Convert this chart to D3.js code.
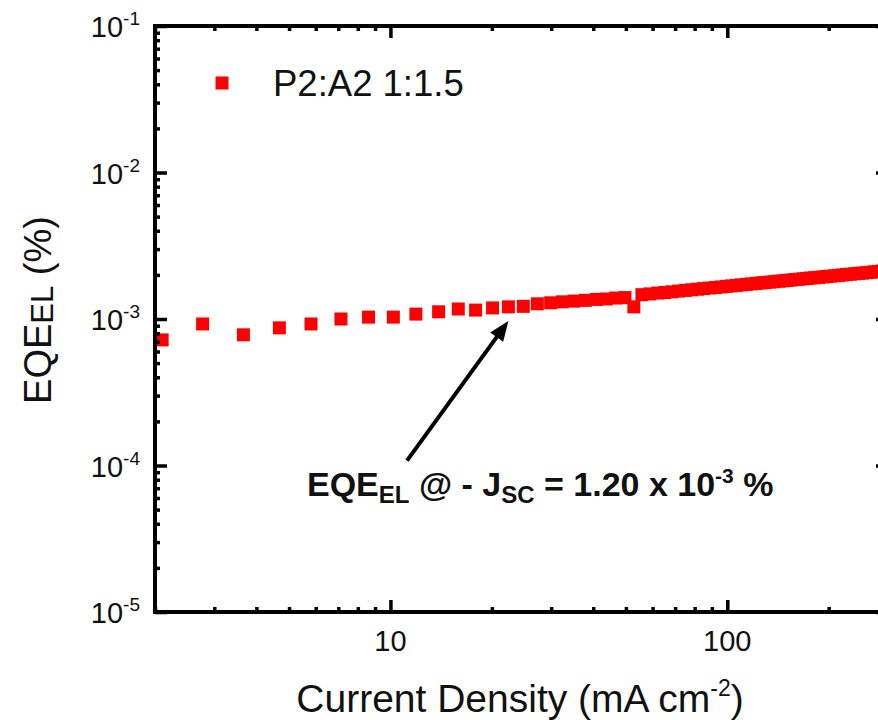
<!DOCTYPE html>
<html>
<head>
<meta charset="utf-8">
<script src="https://cdn.jsdelivr.net/npm/d3@7"></script>
<style>
  body { margin: 0; background: #fff; }
  svg { display: block; font-family: "Liberation Sans", Arial, sans-serif; }
</style>
</head>
<body>
<div id="chart"></div>
<script>
// data
const currentDensity = [2.10, 2.77, 3.66, 4.68, 5.81, 7.13, 8.61, 10.2, 11.9, 13.9, 15.9, 17.9, 20.1, 22.4, 24.8,
    27.3, 29.9, 32.4, 35.1, 37.9, 40.8, 43.7, 46.7, 49.7, 52.8,
    55.8, 58.9, 62.2, 65.2, 68.4, 71.7, 75.2, 78.3, 81.6, 85.0, 88.5, 92.2, 96.0, 99.3, 102.8, 106.3, 110.0, 113.8,
    117.7, 121.8, 126.0, 129.4, 133.9, 137.6, 142.4, 146.3, 150.3, 154.5, 158.7, 163.1, 167.6, 172.2, 176.9, 181.8,
    186.8, 192.0, 197.2, 202.7, 208.3, 214.0, 219.9, 225.9, 232.2, 238.6, 245.2, 251.9, 258.8, 266.0, 273.3, 280.8, 288.5];
const eqeEL = [7.2e-4, 9.25e-4, 7.8e-4, 8.7e-4, 9.25e-4, 1.0e-3, 1.03e-3, 1.03e-3, 1.08e-3, 1.12e-3, 1.17e-3, 1.15e-3, 1.19e-3, 1.21e-3, 1.22e-3,
    1.27e-3, 1.29e-3, 1.31e-3, 1.325e-3, 1.34e-3, 1.36e-3, 1.37e-3, 1.39e-3, 1.40e-3, 1.21e-3,
    1.466e-3, 1.484e-3, 1.503e-3, 1.517e-3, 1.533e-3, 1.55e-3, 1.567e-3, 1.582e-3, 1.597e-3, 1.612e-3, 1.627e-3, 1.641e-3, 1.656e-3, 1.669e-3,
    1.682e-3, 1.696e-3, 1.709e-3, 1.723e-3, 1.736e-3, 1.75e-3, 1.764e-3, 1.772e-3, 1.786e-3, 1.797e-3, 1.811e-3, 1.822e-3, 1.834e-3, 1.845e-3,
    1.857e-3, 1.868e-3, 1.88e-3, 1.892e-3, 1.904e-3, 1.913e-3, 1.925e-3, 1.937e-3, 1.949e-3, 1.961e-3, 1.973e-3, 1.986e-3, 1.998e-3, 2.011e-3,
    2.023e-3, 2.036e-3, 2.049e-3, 2.058e-3, 2.071e-3, 2.084e-3, 2.098e-3, 2.112e-3, 2.125e-3];

const xTickValues = [10, 100];
const yTickExponents = [-1, -2, -3, -4, -5];
const seriesName = "P2:A2 1:1.5";

// arrow: from tail to head, in data units
const arrowTail = [11.2, 1.08e-4];
const arrowHead = [22.4, 0.97e-3];

const width = 878, height = 720;

const svg = d3.select("#chart")
    .append("svg")
    .attr("width", width)
    .attr("height", height);

// right edge of frame sits just outside the picture
const x = d3.scaleLog().domain([2, 300]).range([155, 888]);
const y = d3.scaleLog().domain([1e-5, 1e-1]).range([612, 26]);

const points = currentDensity.map(function (d, i) {
    return { j: d, eqe: eqeEL[i] };
});

// data squares
const sq = 13;
svg.append("g")
    .selectAll("rect")
    .data(points)
    .enter().append("rect")
    .attr("x", d => x(d.j) - sq / 2)
    .attr("y", d => y(d.eqe) - sq / 2)
    .attr("width", sq)
    .attr("height", sq)
    .attr("fill", "#ff0000");

// minor tick values
let xMinor = [];
for (let dec = 1; dec <= 100; dec *= 10) {
    for (let k = 1; k <= 9; k++) {
        const v = k * dec;
        if (v >= 2 && v <= 300 && xTickValues.indexOf(v) < 0) xMinor.push(v);
    }
}
let yMinor = [];
for (let e = -5; e < -1; e++) {
    for (let k = 2; k <= 9; k++) yMinor.push(k * Math.pow(10, e));
}
const yMajor = yTickExponents.map(e => Math.pow(10, e));

function tickStyle(g, w) {
    g.select(".domain").remove();
    g.selectAll(".tick line").attr("stroke", "#000").attr("stroke-width", w);
    g.selectAll(".tick text").remove();
}

// inward ticks on all four sides
const axes = [
    [d3.axisBottom(x), "translate(0," + y.range()[0] + ")", xTickValues, -12, xMinor, -5],
    [d3.axisTop(x), "translate(0," + y.range()[1] + ")", xTickValues, -12, xMinor, -5],
    [d3.axisLeft(y), "translate(" + x.range()[0] + ",0)", yMajor, -12, yMinor, -5],
    [d3.axisRight(y), "translate(" + x.range()[1] + ",0)", yMajor, -12, yMinor, -5]
];
axes.forEach(function (a) {
    svg.append("g").attr("transform", a[1])
        .call(a[0].tickValues(a[4]).tickSize(a[5]).tickFormat(""))
        .call(g => tickStyle(g, 3.5));
    svg.append("g").attr("transform", a[1])
        .call(a[0].tickValues(a[2]).tickSize(a[3]).tickFormat(""))
        .call(g => tickStyle(g, 3.5));
});

// frame
svg.append("rect")
    .attr("x", x.range()[0])
    .attr("y", y.range()[1])
    .attr("width", x.range()[1] - x.range()[0])
    .attr("height", y.range()[0] - y.range()[1])
    .attr("fill", "none")
    .attr("stroke", "#000")
    .attr("stroke-width", 4);

// y tick labels 10^n
yTickExponents.forEach(function (e) {
    const t = svg.append("text")
        .attr("x", 140)
        .attr("y", y(Math.pow(10, e)) + 11)
        .attr("text-anchor", "end")
        .attr("font-size", 29)
        .attr("fill", "#111");
    t.append("tspan").text("10");
    t.append("tspan").attr("font-size", 19).attr("dy", -12).text(e);
});

// x tick labels
svg.selectAll(".xlab")
    .data(xTickValues)
    .enter().append("text")
    .attr("class", "xlab")
    .attr("x", d => x(d))
    .attr("y", 651)
    .attr("text-anchor", "middle")
    .attr("font-size", 29)
    .attr("fill", "#111")
    .text(d => d);

// axis titles
const xt = svg.append("text")
    .attr("x", 520)
    .attr("y", 712)
    .attr("text-anchor", "middle")
    .attr("font-size", 39)
    .attr("fill", "#111");
xt.append("tspan").text("Current Density (mA cm");
xt.append("tspan").attr("font-size", 23).attr("dy", -16).text("-2");
xt.append("tspan").attr("dy", 16).text(")");

const yt = svg.append("text")
    .attr("transform", "translate(51,310) rotate(-90)")
    .attr("text-anchor", "middle")
    .attr("font-size", 38)
    .attr("fill", "#111");
yt.append("tspan").text("EQE");
yt.append("tspan").attr("font-size", 31).attr("dy", 2).text("EL");
yt.append("tspan").attr("dy", -2).text(" (%)");

// legend
svg.append("rect")
    .attr("x", 222 - sq / 2)
    .attr("y", 83 - sq / 2)
    .attr("width", sq)
    .attr("height", sq)
    .attr("fill", "#ff0000");
svg.append("text")
    .attr("x", 273)
    .attr("y", 96)
    .attr("font-size", 36.5)
    .attr("fill", "#111")
    .text(seriesName);

// annotation arrow
const ax1 = x(arrowTail[0]), ay1 = y(arrowTail[1]);
const ax2 = x(arrowHead[0]), ay2 = y(arrowHead[1]);
const ang = Math.atan2(ay2 - ay1, ax2 - ax1);
const headLen = 20, headW = 8;
svg.append("line")
    .attr("x1", ax1).attr("y1", ay1)
    .attr("x2", ax2 - Math.cos(ang) * headLen * 0.8)
    .attr("y2", ay2 - Math.sin(ang) * headLen * 0.8)
    .attr("stroke", "#000")
    .attr("stroke-width", 4);
const bx = ax2 - Math.cos(ang) * headLen, by = ay2 - Math.sin(ang) * headLen;
svg.append("path")
    .attr("d", "M" + ax2 + "," + ay2 +
        "L" + (bx - Math.sin(ang) * headW) + "," + (by + Math.cos(ang) * headW) +
        "L" + (bx + Math.sin(ang) * headW) + "," + (by - Math.cos(ang) * headW) + "Z")
    .attr("fill", "#000");

// annotation text
const an = svg.append("text")
    .attr("x", 307)
    .attr("y", 496)
    .attr("font-size", 34)
    .attr("font-weight", "bold")
    .attr("fill", "#111");
an.append("tspan").text("EQE");
an.append("tspan").attr("font-size", 24).attr("dy", 7).text("EL");
an.append("tspan").attr("dy", -7).text(" @ - J");
an.append("tspan").attr("font-size", 24).attr("dy", 7).text("SC");
an.append("tspan").attr("dy", -7).text(" = 1.20 x 10");
an.append("tspan").attr("font-size", 21).attr("dy", -13).text("-3");
an.append("tspan").attr("dy", 13).text(" %");
</script>
</body>
</html>
